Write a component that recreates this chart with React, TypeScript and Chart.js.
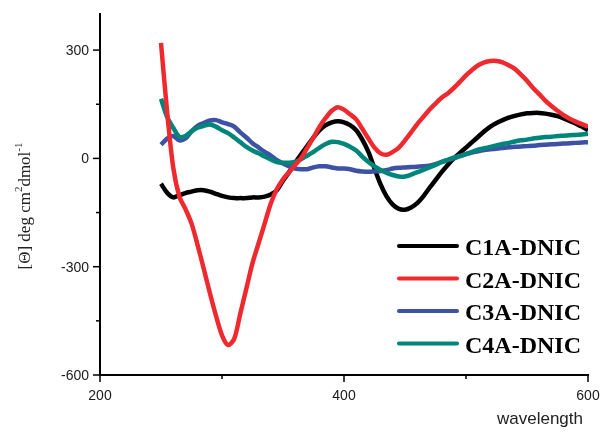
import React, { useEffect, useRef } from "react";
import { Chart, registerables } from "chart.js";

Chart.register(...registerables);

const wavelengths = [
  250, 255, 260, 265, 270, 275, 280, 285, 290, 295,
  300, 305, 310, 315, 320, 325, 330, 335, 340, 345,
  350, 355, 360, 365, 370, 375, 380, 385, 390, 395,
  400, 405, 410, 415, 420, 425, 430, 435, 440, 445,
  450, 455, 460, 465, 470, 475, 480, 485, 490, 495,
  500, 505, 510, 515, 520, 525, 530, 535, 540, 545,
  550, 555, 560, 565, 570, 575, 580, 585, 590, 595, 600,
];

const c1a = [
  -70, -95, -108, -102, -96, -92, -88, -88, -92, -98,
  -104, -108, -110, -110, -110, -108, -108, -106, -100, -88,
  -62, -38, -12, 12, 35, 58, 78, 92, 100, 103,
  100, 92, 78, 52, 18, -28, -72, -106, -128, -140,
  -142, -136, -124, -105, -82, -60, -38, -18, 0, 15,
  30, 45, 60, 75, 88, 98, 106, 113, 118, 122,
  125, 126, 126, 124, 121, 117, 111, 104, 96, 88, 78,
];

const c2a = [
  320, 130, -25, -105, -140, -180, -240, -305, -372, -435,
  -490, -517, -500, -430, -360, -290, -235, -180, -125, -85,
  -58, -38, -18, 2, 30, 58, 88, 112, 132, 142,
  135, 122, 108, 82, 55, 30, 14, 10, 18, 30,
  50, 72, 95, 115, 135, 152, 168, 180, 195, 212,
  230, 245, 258, 266, 270, 270, 266, 258, 248, 232,
  215, 195, 178, 160, 145, 132, 120, 110, 102, 95, 88,
];

const c3a = [
  38, 55, 62, 50, 55, 75, 90, 98, 105, 106,
  100, 95, 88, 72, 58, 42, 30, 18, 8, -5,
  -14, -22, -28, -30, -30, -25, -22, -22, -25, -28,
  -28, -30, -34, -36, -37, -36, -35, -32, -28, -26,
  -25, -24, -23, -22, -20, -16, -10, -5, 0, 6,
  12, 16, 20, 23, 25, 27, 29, 31, 32, 33,
  34, 35, 37, 38, 39, 40, 41, 42, 43, 44, 45,
];

const c4a = [
  165, 115, 85, 60, 62, 75, 85, 90, 94, 88,
  78, 70, 58, 45, 32, 22, 14, 5, -3, -10,
  -12, -12, -10, -2, 8, 18, 30, 40, 46, 45,
  40, 32, 22, 5, -10, -22, -32, -40, -46, -50,
  -50, -45, -38, -32, -25, -18, -10, -4, 2, 7,
  12, 18, 24, 28, 32, 36, 40, 43, 47, 50,
  52, 55, 57, 59, 60, 62, 63, 64, 65, 66, 68,
];

const seriesNames = ["C1A-DNIC", "C2A-DNIC", "C3A-DNIC", "C4A-DNIC"];
const seriesColors = ["#000000", "#ee2a2f", "#3d52a4", "#00857a"];
const seriesOrder = [3, 0, 2, 1];

const xMajorTicks = [200, 400, 600];
const xMinorTicks = [300, 500];
const yMajorTicks = [-600, -300, 0, 300];
const yMinorTicks = [-450, -150, 150];

const decorPlugin = {
  id: "decor",
  afterDraw(chart: any) {
    const ctx = chart.ctx as CanvasRenderingContext2D;
    const xs = chart.scales.x;
    const ys = chart.scales.y;
    const area = chart.chartArea;
    ctx.save();
    ctx.strokeStyle = "#000";
    ctx.lineWidth = 1.5;
    const seg = (x1: number, y1: number, x2: number, y2: number) => {
      ctx.beginPath();
      ctx.moveTo(x1, y1);
      ctx.lineTo(x2, y2);
      ctx.stroke();
    };
    const tickFont = '14px "Liberation Sans", Arial, sans-serif';
    ctx.fillStyle = "#1a1a1a";
    ctx.font = tickFont;
    xMajorTicks.forEach((v) => {
      const p = xs.getPixelForValue(v);
      seg(p, area.bottom, p, area.bottom + 7);
      ctx.textAlign = "center";
      ctx.textBaseline = "alphabetic";
      ctx.fillText(String(v), p, area.bottom + 25);
    });
    xMinorTicks.forEach((v) => {
      const p = xs.getPixelForValue(v);
      seg(p, area.bottom, p, area.bottom + 4);
    });
    yMajorTicks.forEach((v) => {
      const p = ys.getPixelForValue(v);
      seg(area.left - 7, p, area.left, p);
      ctx.textAlign = "right";
      ctx.textBaseline = "alphabetic";
      ctx.fillText(String(v), area.left - 11, p + 5);
    });
    yMinorTicks.forEach((v) => {
      const p = ys.getPixelForValue(v);
      seg(area.left - 4, p, area.left, p);
    });

    // x title
    ctx.fillStyle = "#222";
    ctx.font = '17px "Liberation Sans", Arial, sans-serif';
    ctx.textAlign = "right";
    ctx.textBaseline = "alphabetic";
    ctx.fillText("wavelength", 583, 424);

    // y title with superscripts
    const base = '17px "Liberation Serif", "Times New Roman", serif';
    const sup = '11px "Liberation Serif", "Times New Roman", serif';
    const parts: [string, boolean][] = [
      ["[\u0398] deg cm", false],
      ["2", true],
      ["dmol", false],
      ["-1", true],
    ];
    let total = 0;
    parts.forEach(([t, s]) => {
      ctx.font = s ? sup : base;
      total += ctx.measureText(t).width;
    });
    ctx.translate(30, 206);
    ctx.rotate(-Math.PI / 2);
    ctx.textAlign = "left";
    ctx.textBaseline = "alphabetic";
    let cx = -total / 2;
    parts.forEach(([t, s]) => {
      ctx.font = s ? sup : base;
      ctx.fillText(t, cx, s ? -8 : 0);
      cx += ctx.measureText(t).width;
    });
    ctx.setTransform(1, 0, 0, 1, 0, 0);

    // legend
    const legendY = [246, 278.5, 311, 343.5];
    ctx.lineCap = "round";
    ctx.lineWidth = 4;
    ctx.font = 'bold 24px "Liberation Serif", "Times New Roman", serif';
    ctx.textAlign = "left";
    ctx.textBaseline = "alphabetic";
    seriesNames.forEach((name, i) => {
      ctx.strokeStyle = seriesColors[i];
      seg(399, legendY[i], 457, legendY[i]);
      ctx.fillStyle = "#000";
      ctx.fillText(name, 465, legendY[i] + 9);
    });
    ctx.restore();
  },
};

export default function App() {
  const ref = useRef<HTMLCanvasElement | null>(null);
  useEffect(() => {
    if (!ref.current) return;
    const all = [c1a, c2a, c3a, c4a];
    const chart = new Chart(ref.current, {
      type: "line",
      data: {
        datasets: all.map((vals, i) => ({
          label: seriesNames[i],
          data: wavelengths.map((w, j) => ({ x: w, y: vals[j] })),
          borderColor: seriesColors[i],
          backgroundColor: seriesColors[i],
          borderWidth: 4.5,
          pointRadius: 0,
          tension: 0.3,
          fill: false,
          order: seriesOrder[i],
        })),
      },
      options: {
        animation: false,
        responsive: false,
        layout: { padding: { top: 14, right: 15, left: 0, bottom: 0 } },
        plugins: {
          legend: { display: false },
          tooltip: { enabled: false },
          title: { display: false },
        },
        scales: {
          x: {
            type: "linear",
            min: 200,
            max: 600,
            grid: { display: true, drawOnChartArea: false, drawTicks: false },
            border: { display: true, color: "#000", width: 2 },
            ticks: { display: false, stepSize: 100 },
            afterFit: (s: any) => {
              s.height = 57;
            },
          },
          y: {
            type: "linear",
            min: -600,
            max: 400,
            grid: { display: true, drawOnChartArea: false, drawTicks: false },
            border: { display: true, color: "#000", width: 2 },
            ticks: { display: false, stepSize: 150 },
            afterFit: (s: any) => {
              s.width = 100;
            },
          },
        },
      },
      plugins: [decorPlugin],
    });
    return () => chart.destroy();
  }, []);
  return (
    <div style={{ position: "fixed", left: 0, top: 0, width: 603, height: 432, background: "#fff" }}>
      <canvas ref={ref} width={603} height={432} />
    </div>
  );
}
